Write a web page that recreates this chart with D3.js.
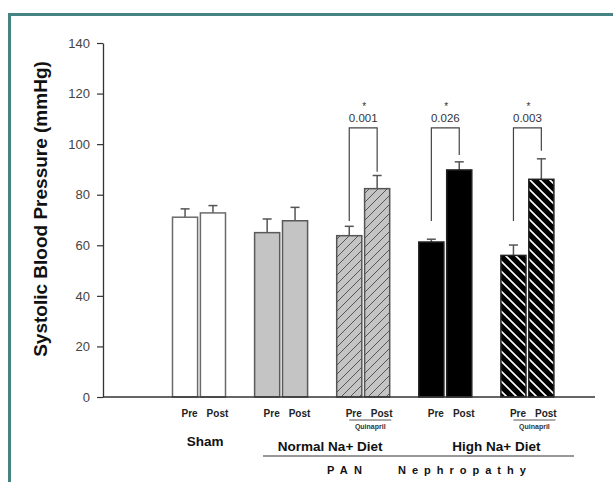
<!DOCTYPE html>
<html>
<head>
<meta charset="utf-8">
<script src="https://cdn.jsdelivr.net/npm/d3@7"></script>
<style>
  html, body { margin: 0; padding: 0; background: #fff; }
  svg { display: block; }
  text { font-family: Arial, "Liberation Sans", sans-serif; }
</style>
</head>
<body>
<svg id="chart" width="613" height="482"></svg>
<script>
// Systolic blood pressure before/after, by treatment group
const groups = ["Sham", "Normal", "NormalQuinapril", "HighNa", "HighNaQuinapril"];
const phases = ["Pre", "Post"];
const preMean  = [71.1, 65.0, 63.8, 61.3, 56.0];
const postMean = [72.8, 69.7, 82.4, 89.8, 86.1];
const preErr   = [3.3, 5.4, 3.7, 1.1, 4.1];
const postErr  = [2.9, 5.3, 5.2, 3.2, 8.1];
const yTicks   = [0, 20, 40, 60, 80, 100, 120, 140];

// Pre vs post comparisons (only groups with a significant change)
const compGroups   = ["NormalQuinapril", "HighNa", "HighNaQuinapril"];
const compP        = ["0.001", "0.026", "0.003"];
const compTop      = [106.4, 106.4, 106.4];
const compLeftEnd  = [69.6, 69.6, 69.6];
const compRightEnd = [89.1, 95.7, 97.4];

const quinaprilGroups = ["NormalQuinapril", "HighNaQuinapril"];

const svg = d3.select("#chart");

// outer teal frame
svg.append("rect")
  .attr("x", 9.5).attr("y", 14.5)
  .attr("width", 700).attr("height", 600)
  .attr("fill", "none")
  .attr("stroke", "#468484")
  .attr("stroke-width", 3);

// hatch patterns
const defs = svg.append("defs");
const p1 = defs.append("pattern")
  .attr("id", "hatchGray").attr("patternUnits", "userSpaceOnUse")
  .attr("width", 9).attr("height", 9);
p1.append("rect").attr("width", 9).attr("height", 9).attr("fill", "#c4c4c4");
p1.append("path").attr("d", "M-1,10 L10,-1 M-3,3 L3,-3 M6,12 L12,6")
  .attr("stroke", "#555").attr("stroke-width", 1);

const p2 = defs.append("pattern")
  .attr("id", "hatchBlack").attr("patternUnits", "userSpaceOnUse")
  .attr("width", 10).attr("height", 10);
p2.append("rect").attr("width", 10).attr("height", 10).attr("fill", "#000");
p2.append("path").attr("d", "M-1,-1 L11,11 M-4,6 L4,14 M6,-4 L14,4")
  .attr("stroke", "#fff").attr("stroke-width", 1.6);

const fills   = ["#ffffff", "#c4c4c4", "url(#hatchGray)", "#000000", "url(#hatchBlack)"];
const strokes = ["#6a6a6a", "#5a5a5a", "#555555", "#222222", "#222222"];

const y = d3.scaleLinear().domain([0, 140]).range([397, 43]);
const x0 = d3.scaleBand().domain(groups).range([158, 568.5]);
const x1 = d3.scaleBand().domain(phases).range([14.5, 67.5]).paddingInner(0.1);

const rows = [];
groups.forEach((g, i) => {
  rows.push({ g, i, phase: "Pre",  v: preMean[i],  e: preErr[i] });
  rows.push({ g, i, phase: "Post", v: postMean[i], e: postErr[i] });
});
const cx = d => x0(d.g) + x1(d.phase) + x1.bandwidth() / 2;
const gc = g => x0(g) + x0.bandwidth() / 2;

// y axis
const yAxis = svg.append("g")
  .attr("transform", "translate(103,0)")
  .call(d3.axisLeft(y).tickValues(yTicks).tickSize(6).tickPadding(7).tickSizeOuter(0));
yAxis.select(".domain").attr("stroke", "#333").attr("stroke-width", 1.3);
yAxis.selectAll(".tick line").attr("stroke", "#333").attr("stroke-width", 1.2);
yAxis.selectAll(".tick text")
  .attr("fill", "#444").style("font-size", "13px")
  .style("font-family", "Arial, 'Liberation Sans', sans-serif");

svg.append("text")
  .attr("transform", "translate(47,209) rotate(-90)")
  .attr("text-anchor", "middle")
  .style("font-size", "19px").style("font-weight", "bold")
  .attr("fill", "#111")
  .text("Systolic Blood Pressure (mmHg)");

// error bars (upper only)
const err = svg.append("g").attr("stroke", "#555").attr("stroke-width", 1.5);
err.selectAll("line.stem").data(rows).join("line")
  .attr("class", "stem")
  .attr("x1", cx).attr("x2", cx)
  .attr("y1", d => y(d.v)).attr("y2", d => y(d.v + d.e));
err.selectAll("line.cap").data(rows).join("line")
  .attr("class", "cap")
  .attr("x1", d => cx(d) - 4.5).attr("x2", d => cx(d) + 4.5)
  .attr("y1", d => y(d.v + d.e)).attr("y2", d => y(d.v + d.e));

// bars
svg.append("g").selectAll("rect").data(rows).join("rect")
  .attr("x", d => x0(d.g) + x1(d.phase))
  .attr("y", d => y(d.v))
  .attr("width", x1.bandwidth())
  .attr("height", d => y(0) - y(d.v))
  .attr("fill", d => fills[d.i])
  .attr("stroke", d => strokes[d.i])
  .attr("stroke-width", 1.5);

// x baseline
svg.append("line")
  .attr("x1", 103).attr("x2", 595)
  .attr("y1", y(0)).attr("y2", y(0))
  .attr("stroke", "#333").attr("stroke-width", 1.5);

// significance brackets
compGroups.forEach((g, k) => {
  const xl = x0(g) + x1("Pre") + x1.bandwidth() / 2;
  const xr = x0(g) + x1("Post") + x1.bandwidth() / 2;
  svg.append("path")
    .attr("d", `M${xl},${y(compLeftEnd[k])} V${y(compTop[k])} H${xr} V${y(compRightEnd[k])}`)
    .attr("fill", "none").attr("stroke", "#444").attr("stroke-width", 1.2);
  const mid = (xl + xr) / 2;
  svg.append("text")
    .attr("x", mid).attr("y", y(compTop[k]) - 5.5)
    .attr("text-anchor", "middle")
    .style("font-size", "11.5px").attr("fill", "#333")
    .text(compP[k]);
  svg.append("text")
    .attr("x", mid + 1).attr("y", y(compTop[k]) - 17.5)
    .attr("text-anchor", "middle")
    .style("font-size", "10px").attr("fill", "#333")
    .text("*");
});

// Pre / Post labels
svg.append("g").selectAll("text").data(rows).join("text")
  .attr("x", d => cx(d) + 4.5)
  .attr("y", 416.5)
  .attr("text-anchor", "middle")
  .style("font-size", "10px").style("font-weight", "bold")
  .attr("fill", "#222")
  .text(d => d.phase);

// Quinapril sub-labels
quinaprilGroups.forEach(g => {
  const c = gc(g);
  svg.append("line")
    .attr("x1", c - 14).attr("x2", c + 28)
    .attr("y1", 420).attr("y2", 420)
    .attr("stroke", "#555").attr("stroke-width", 1);
  svg.append("text")
    .attr("x", c + 7).attr("y", 428.5)
    .attr("text-anchor", "middle")
    .style("font-size", "7px").style("font-weight", "bold")
    .attr("fill", "#333")
    .text("Quinapril");
});

// group labels
svg.append("text")
  .attr("x", gc("Sham") + 6).attr("y", 446)
  .attr("text-anchor", "middle")
  .style("font-size", "13.5px").style("font-weight", "bold").attr("fill", "#111")
  .text("Sham");
svg.append("text")
  .attr("x", (gc("Normal") + gc("NormalQuinapril")) / 2 + 8).attr("y", 450.5)
  .attr("text-anchor", "middle")
  .style("font-size", "13.5px").style("font-weight", "bold").attr("fill", "#111")
  .text("Normal Na+ Diet");
svg.append("text")
  .attr("x", (gc("HighNa") + gc("HighNaQuinapril")) / 2 + 10).attr("y", 450.5)
  .attr("text-anchor", "middle")
  .style("font-size", "13.5px").style("font-weight", "bold").attr("fill", "#111")
  .text("High Na+ Diet");

svg.append("line")
  .attr("x1", 263).attr("x2", 574)
  .attr("y1", 456).attr("y2", 456)
  .attr("stroke", "#333").attr("stroke-width", 1.2);

svg.append("text")
  .attr("x", 327).attr("y", 474)
  .style("font-size", "11px").style("font-weight", "bold")
  .style("letter-spacing", "6.3px").attr("fill", "#111")
  .text("PAN");
svg.append("text")
  .attr("x", 398).attr("y", 474)
  .style("font-size", "11px").style("font-weight", "bold")
  .style("letter-spacing", "6px").attr("fill", "#111")
  .text("Nephropathy");
</script>
</body>
</html>
